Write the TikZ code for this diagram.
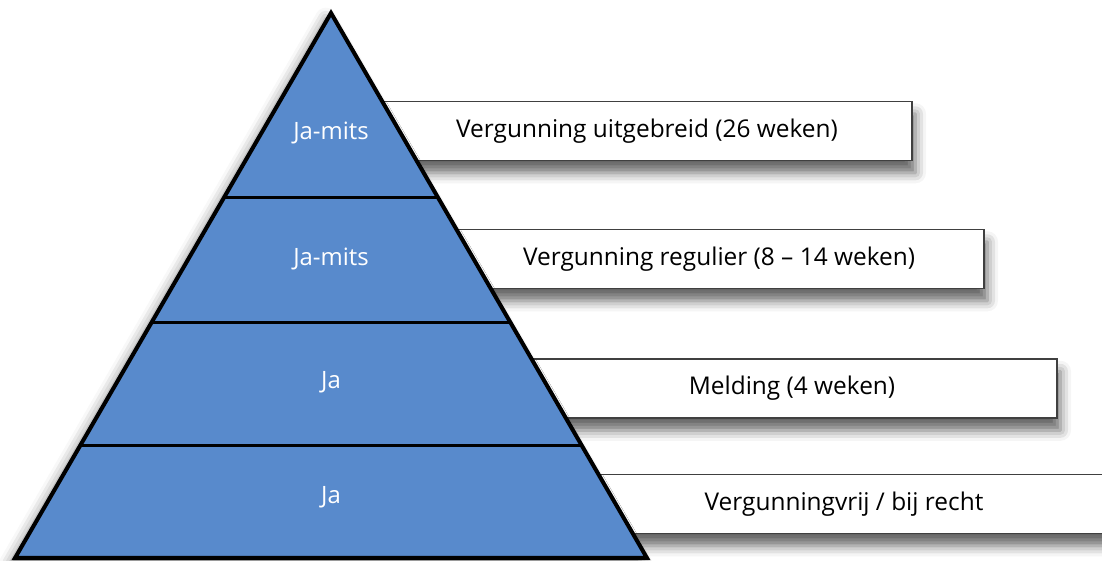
\documentclass[tikz,border=0pt]{standalone}
\usepackage{fontspec}
\setmainfont{Open Sans}
\usetikzlibrary{shadows,shadows.blur,positioning,calc}
\definecolor{pyrblue}{RGB}{88,138,204}

\begin{document}
\begin{tikzpicture}[x=0.02cm,y=-0.02cm,
  level/.style={white,font=\fontsize{13.6}{16}\selectfont},
  stage/.style={draw=black!75,line width=0.85pt,fill=white,minimum width=10.6cm,minimum height=1.18cm,
    font=\fontsize{13.9}{16}\selectfont,
    blur shadow={shadow xshift=2pt,shadow yshift=-7pt,shadow blur radius=6pt,shadow opacity=60}}]

  \clip (0,0) rectangle (1102,561);

	%boxes behind the pyramid
    \foreach \cx/\cy/\txt/\name in {647/131/{Vergunning uitgebreid (26 weken)}/b1,
                                   719/259/{Vergunning regulier (8 – 14 weken)}/b2,
                                   792/388.5/{Melding (4 weken)}/b3,
                                   844/504/{Vergunningvrij / bij recht}/b4}{
        \node[stage] (\name) at (\cx,\cy) {\txt};
    }

	%pyramid
    \coordinate (top) at (331,13);
    \coordinate (bl) at (15,558);
    \coordinate (br) at (647,558);
    \fill[pyrblue,blur shadow={shadow xshift=-3pt,shadow yshift=-3pt,shadow blur radius=6pt,shadow opacity=45}]
        (top) -- (br) -- (bl) -- cycle;

    \foreach \f in {0.3394,0.5670,0.7927}{
        \draw[line width=1.7pt] ($(top)!\f!(bl)$) -- ($(top)!\f!(br)$);
    }
    \draw[line width=2.3pt,line join=miter] (top) -- (br) -- (bl) -- cycle;

	%levels
    \foreach \cy/\txt/\name in {133/Ja-mits/l1,259/Ja-mits/l2,382/Ja/l3,497/Ja/l4}{
        \node[level] (\name) at (331,\cy) {\txt};
    }

\end{tikzpicture}
\end{document}
